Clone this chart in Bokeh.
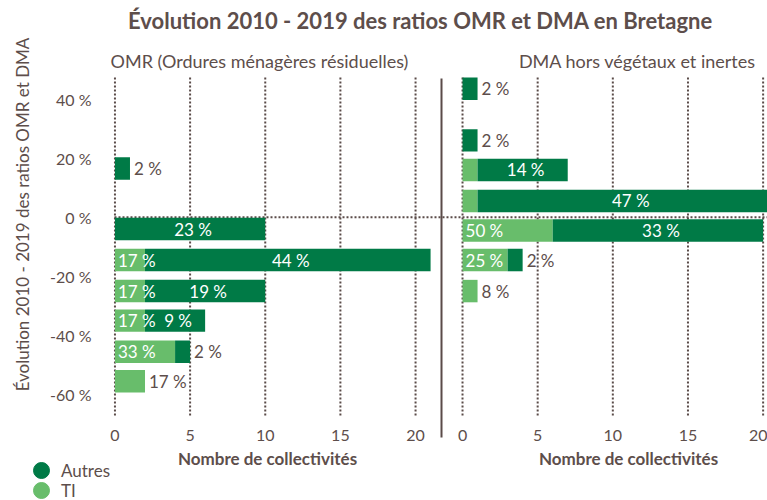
import math
from bokeh.plotting import figure
from bokeh.models import (ColumnDataSource, Range1d, FixedTicker, Label,
                          Legend, LegendItem)
from bokeh.core.properties import value
from bokeh.embed import file_html
from bokeh.resources import INLINE

# ---------------- data ----------------
title = "Évolution 2010 - 2019 des ratios OMR et DMA en Bretagne"
y_title = "Évolution 2010 - 2019 des ratios OMR et DMA"
x_title = "Nombre de collectivités"
panel_titles = ["OMR (Ordures ménagères résiduelles)", "DMA hors végétaux et inertes"]
series = ["Autres", "TI"]
y_ticks = [40, 20, 0, -20, -40, -60]
y_tick_labels = ["40 %", "20 %", "0 %", "-20 %", "-40 %", "-60 %"]
x_ticks = [0, 5, 10, 15, 20]

# evolution (y position, %) and number of collectivités per type
omr_evol = [16.5, -4.0, -14.5, -25.0, -35.0, -45.5, -55.5]
omr_ti = [0, 0, 2, 2, 2, 4, 2]
omr_autres = [1, 10, 19, 8, 4, 1, 0]

dma_evol = [43.5, 26.0, 16.0, 5.5, -4.5, -14.5, -25.0]
dma_ti = [0, 0, 1, 1, 6, 3, 1]
dma_autres = [1, 1, 6, 20, 14, 1, 0]

# ---------------- style / layout ----------------
C_AUTRES = "#007a46"
C_TI = "#68bd6b"
C_TEXT = "#5d4e4b"
C_GRID = "#5a4b48"
FONT = "Lato"

W, H = 767, 500
PLOT_LEFT = 114          # page x of the count axis origin
PX_PER_UNIT = 15.03
PX_PER_PCT = 2.955
ZERO_PY = 216.7
GAP = 23.125             # offset of the right panel on the shared count axis
X0 = -0.03 - PLOT_LEFT / PX_PER_UNIT
X1 = X0 + W / PX_PER_UNIT
Y1 = ZERO_PY / PX_PER_PCT
Y0 = Y1 - H / PX_PER_PCT
GRID_TOP, GRID_BOTTOM = 47.6, -67.1
BAR_H = 7.6

def dx(px):   # page pixel -> x data
    return X0 + px / PX_PER_UNIT

def dy(py):   # page pixel -> y data
    return Y1 - py / PX_PER_PCT

p = figure(width=W, height=H, output_backend="svg", toolbar_location=None,
           x_range=Range1d(X0, X1), y_range=Range1d(Y0, Y1),
           min_border_left=0, min_border_right=0, min_border_top=0,
           min_border_bottom=0)
p.outline_line_color = None
p.background_fill_color = "white"
p.xgrid.visible = False
p.ygrid.visible = False

# dotted grid lines
all_x_ticks = x_ticks + [GAP + t for t in x_ticks]
p.segment(x0=all_x_ticks, y0=[GRID_BOTTOM] * len(all_x_ticks),
          x1=all_x_ticks, y1=[GRID_TOP] * len(all_x_ticks),
          line_color=C_GRID, line_dash="2 2", line_width=2)
p.segment(x0=[dx(PLOT_LEFT)], y0=[0], x1=[X1], y1=[0],
          line_color=C_GRID, line_dash="2 2", line_width=2)

# axes (drawn at fixed locations inside the canvas)
p.xaxis.fixed_location = dy(422)
p.yaxis.fixed_location = dx(PLOT_LEFT)
p.xaxis.ticker = FixedTicker(ticks=all_x_ticks)
p.xaxis.major_label_overrides = {t: str(v) for t, v in zip(all_x_ticks, x_ticks + x_ticks)}
p.yaxis.ticker = FixedTicker(ticks=y_ticks)
p.yaxis.major_label_overrides = {t: l for t, l in zip(y_ticks, y_tick_labels)}
for ax in (p.xaxis, p.yaxis):
    ax.axis_line_color = None
    ax.major_tick_line_color = None
    ax.minor_tick_line_color = None
    ax.major_label_text_font = FONT
    ax.major_label_text_font_size = "16px"
    ax.major_label_text_color = C_TEXT
p.yaxis.major_label_standoff = 17
p.xaxis.major_label_standoff = 1

# bars and their labels
bars = dict(y=[], left=[], right=[], color=[])
labels = dict(x=[], y=[], text=[], color=[], align=[], xoff=[])
for off, ev, ti, au in ((0, omr_evol, omr_ti, omr_autres),
                        (GAP, dma_evol, dma_ti, dma_autres)):
    tot_ti, tot_au = sum(ti), sum(au)
    for yv, t, a in zip(ev, ti, au):
        last = t + a
        segs = [(0, t, t / tot_ti, True, C_TI), (t, t + a, a / tot_au, False, C_AUTRES)]
        for s0, s1, frac, is_ti, col in segs:
            w = s1 - s0
            if w == 0:
                continue
            bars["y"].append(yv)
            bars["left"].append(off + s0)
            bars["right"].append(off + s1)
            bars["color"].append(col)
            txt = f"{round(100 * frac)} %"
            if s1 == last and w <= 2:
                labels["x"].append(off + s1); labels["align"].append("left")
                labels["xoff"].append(4); labels["color"].append(C_TEXT)
            elif w >= 2:
                if is_ti:
                    labels["x"].append(off + s0); labels["align"].append("left")
                else:
                    labels["x"].append(off + (s0 + s1) / 2); labels["align"].append("center")
                labels["xoff"].append(3); labels["color"].append("white")
            else:
                continue
            labels["y"].append(yv)
            labels["text"].append(txt)

p.hbar(y="y", left="left", right="right", height=BAR_H, fill_color="color",
       line_color=None, source=ColumnDataSource(bars))
p.text(x="x", y="y", text="text", text_color="color", text_align="align",
       x_offset="xoff", text_baseline="middle", text_font=value(FONT),
       text_font_size="17px", source=ColumnDataSource(labels))

# divider between the two panels
p.segment(x0=[dx(441)], y0=[dy(78)], x1=[dx(441)], y1=[dy(437)],
          line_color=C_GRID, line_width=2)

# titles
def add_text(px, py, text, size, bold=False, angle=0.0):
    p.add_layout(Label(x=dx(px), y=dy(py), text=text, angle=angle,
                       text_align="center", text_baseline="middle",
                       text_font=FONT, text_font_size=size,
                       text_font_style="bold" if bold else "normal",
                       text_color=C_TEXT))

add_text(420, 20, title, "22px", bold=True)
add_text(259, 60, panel_titles[0], "18px")
add_text(637, 60, panel_titles[1], "18px")
add_text(22, 214, y_title, "17px", angle=math.pi / 2)
add_text(267, 458, x_title, "17px", bold=True)
add_text(628, 458, x_title, "17px", bold=True)

# legend (one Legend per entry, so that the circles can be large and close)
hidden_x, hidden_y = [X1 + 100], [Y1 + 100]
for name, col, cy in ((series[0], C_AUTRES, 470), (series[1], C_TI, 490)):
    r = p.scatter(x=hidden_x, y=hidden_y, marker="circle", fill_color=col,
                  line_color=col)
    lg = Legend(items=[LegendItem(label=name, renderers=[r])],
                location=(21, H - cy - 20), glyph_width=40, glyph_height=40,
                label_height=40, label_standoff=0, padding=0, margin=0,
                border_line_color=None, background_fill_alpha=0,
                label_text_font=FONT, label_text_font_size="17px",
                label_text_color=C_TEXT, label_text_baseline="middle")
    p.add_layout(lg)

open("out.html", "w").write(file_html(p, INLINE))
